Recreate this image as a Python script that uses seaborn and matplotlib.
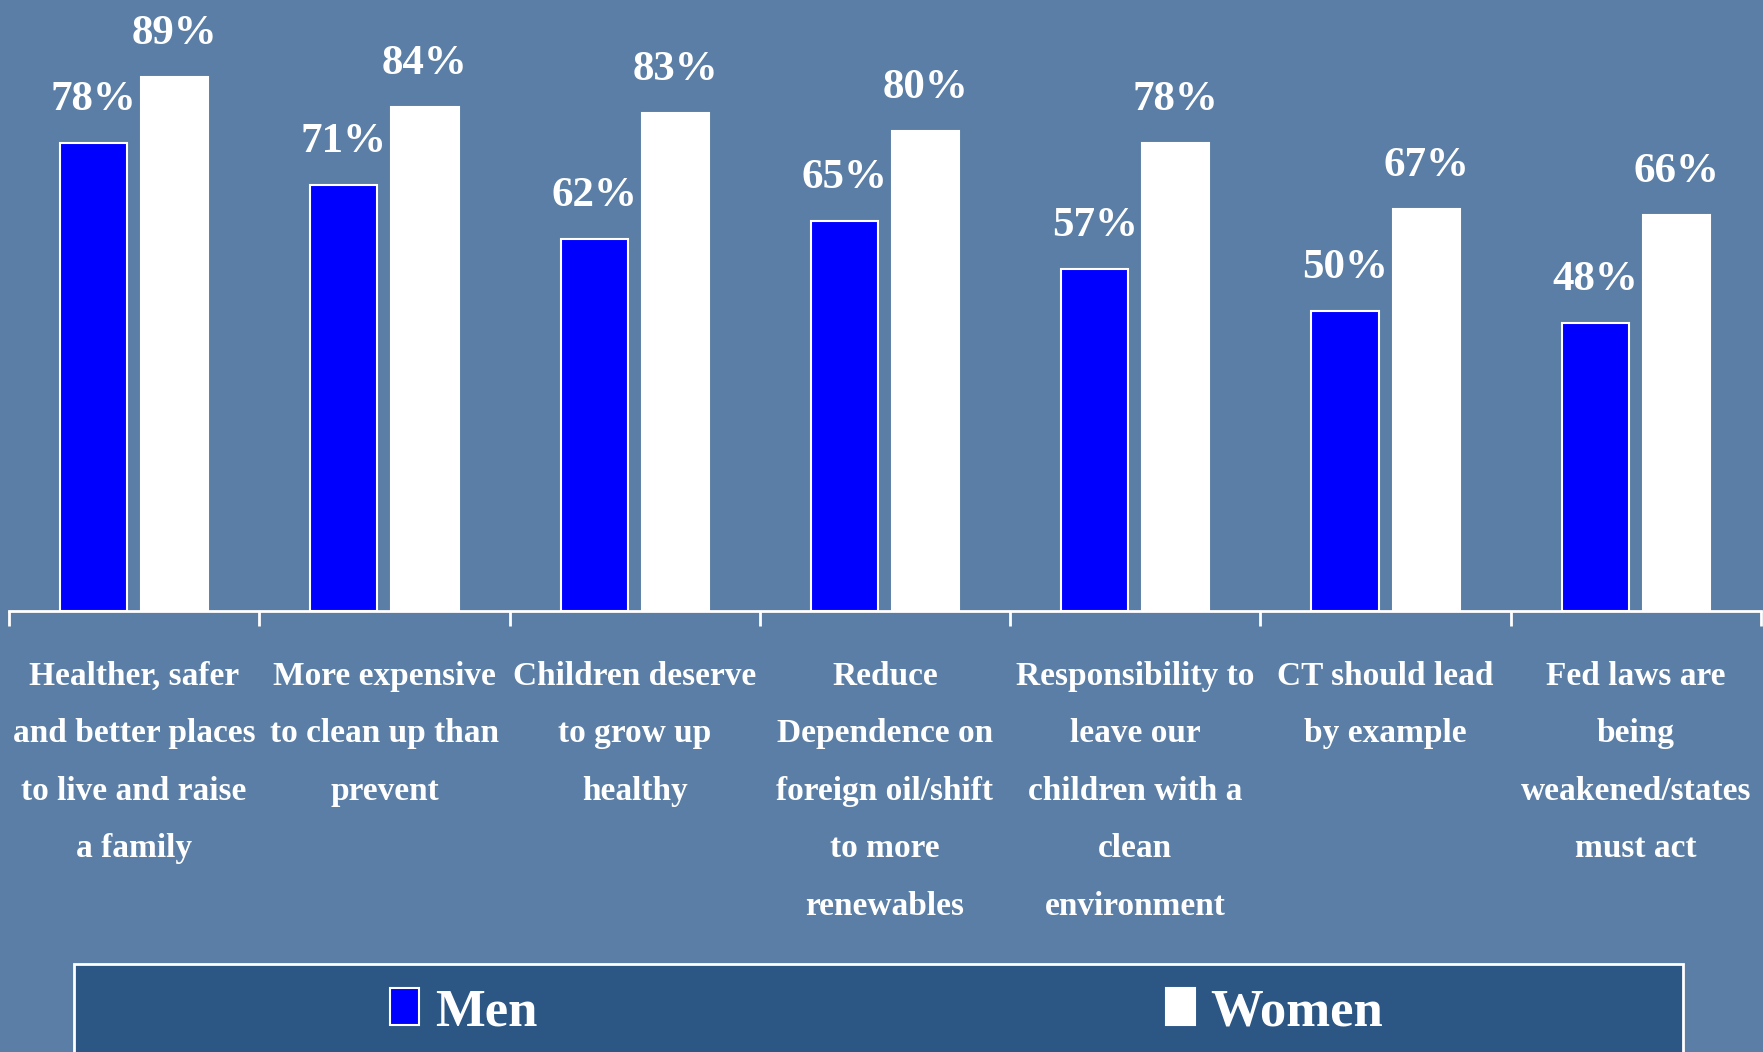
import pandas as pd
import matplotlib.pyplot as plt
import matplotlib.patches as mpatches
import numpy as np
import seaborn as sns

# ===================== data =====================
CATEGORIES = [
    "Healther, safer\nand better places\nto live and raise\na family",
    "More expensive\nto clean up than\nprevent",
    "Children deserve\nto grow up\nhealthy",
    "Reduce\nDependence on\nforeign oil/shift\nto more\nrenewables",
    "Responsibility to\nleave our\nchildren with a\nclean\nenvironment",
    "CT should lead\nby example",
    "Fed laws are\nbeing\nweakened/states\nmust act",
]
MEN = [78, 71, 62, 65, 57, 50, 48]
WOMEN = [89, 84, 83, 80, 78, 67, 66]
SERIES = ["Men", "Women"]
COLORS = {"Men": "#0000FF", "Women": "#FFFFFF"}

BG = "#5A7EA5"
LEGEND_BG = "#2C5684"

df = pd.DataFrame({
    "cat": CATEGORIES * 2,
    "sex": ["Men"] * len(MEN) + ["Women"] * len(WOMEN),
    "pct": MEN + WOMEN,
})

# ===================== style =====================
sns.set_style("white")
plt.rcParams["font.family"] = ["Liberation Serif", "DejaVu Serif"]
plt.rcParams["font.weight"] = "bold"

fig = plt.figure(figsize=(17.63, 10.52), dpi=100, facecolor=BG)
ax = fig.add_axes([9 / 1763, 1 - 611 / 1052, 1752 / 1763, 600 / 1052])
ax.set_facecolor(BG)

sns.barplot(
    data=df, x="cat", y="pct", hue="sex", order=CATEGORIES, hue_order=SERIES,
    palette=COLORS, saturation=1, width=0.648, gap=0.173, edgecolor="white",
    linewidth=1.5, errorbar=None, ax=ax,
)

# percentage labels
for cont in ax.containers:
    ax.bar_label(cont, labels=[f"{v:.0f}%" for v in cont.datavalues],
                 padding=17, color="white", fontsize=31, fontweight="bold")

ax.set_xlim(-0.5, len(CATEGORIES) - 0.5)
ax.set_ylim(0, 100)
ax.set_xlabel("")
ax.set_ylabel("")
ax.set_yticks([])

for side in ["top", "left", "right"]:
    ax.spines[side].set_visible(False)
ax.spines["bottom"].set_color("white")
ax.spines["bottom"].set_linewidth(2)

# group boundary ticks
ax.set_xticks(range(len(CATEGORIES)))
ax.set_xticks(np.arange(-0.5, len(CATEGORIES), 1), minor=True)
ax.tick_params(axis="x", which="minor", bottom=True, length=11, width=2,
               color="white", direction="out")
ax.tick_params(axis="x", which="major", bottom=True, length=0, pad=36)
ax.set_xticklabels(CATEGORIES, color="white", fontsize=24, fontweight="bold",
                   linespacing=2.1)

# ===================== legend =====================
handles, labels = ax.get_legend_handles_labels()
if ax.legend_ is not None:
    ax.legend_.remove()

box = mpatches.Rectangle((74 / 1763, -0.05), (1683 - 74) / 1763, 0.05 + (1 - 964 / 1052),
                         transform=fig.transFigure, facecolor=LEGEND_BG,
                         edgecolor="white", linewidth=2, clip_on=False)
fig.patches.append(box)

leg = fig.legend(handles, labels, loc="center", bbox_to_anchor=(0.503, 1 - 1012 / 1052),
                 ncol=2, frameon=False, fontsize=38, handlelength=0.55,
                 handleheight=0.7, handletextpad=0.3, columnspacing=11.9)
for t in leg.get_texts():
    t.set_color("white")
    t.set_fontweight("bold")

plt.savefig("out.png", dpi=100, facecolor=BG)
